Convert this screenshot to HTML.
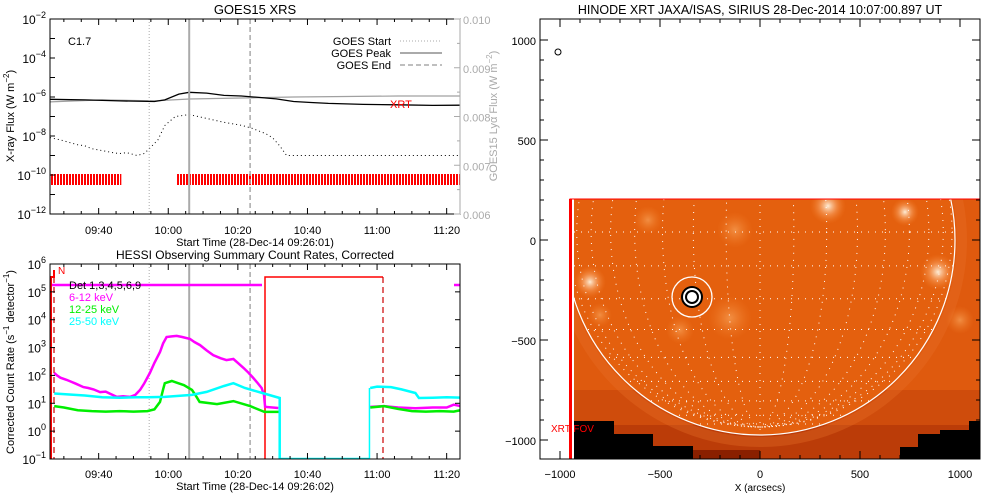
<!DOCTYPE html>
<html><head><meta charset="utf-8">
<style>
html,body{margin:0;padding:0;background:#fff;width:1000px;height:500px;overflow:hidden}
svg{display:block;font-family:"Liberation Sans",sans-serif}
</style></head>
<body>
<svg id="fig" width="1000" height="500" viewBox="0 0 1000 500" xmlns="http://www.w3.org/2000/svg">
<defs>
<pattern id="stripe" width="3" height="20" patternUnits="userSpaceOnUse"><rect x="0" y="0" width="2" height="20" fill="#ff0000"/><rect x="2" y="0" width="1" height="20" fill="#ffffff"/></pattern>
<clipPath id="topclip"><rect x="50" y="19" width="410" height="195"/></clipPath>
<clipPath id="botclip"><rect x="50" y="264" width="410" height="195"/></clipPath>
<clipPath id="fovclip"><rect x="574" y="199" width="406" height="260"/></clipPath>
<clipPath id="discclip"><circle cx="760" cy="240" r="195"/></clipPath>
<radialGradient id="blob"><stop offset="0" stop-color="#fff4e0" stop-opacity="0.95"/><stop offset="0.5" stop-color="#f8a060" stop-opacity="0.6"/><stop offset="1" stop-color="#f07a25" stop-opacity="0"/></radialGradient>
<radialGradient id="blob2"><stop offset="0" stop-color="#f59a50" stop-opacity="0.8"/><stop offset="1" stop-color="#f07a25" stop-opacity="0"/></radialGradient>
</defs>
</svg>
<script>
// ---------- DATA ----------
// Top panel (GOES), time in minutes since 09:26:01
const goesLongT   = [0, 10, 20, 30, 33, 37, 40, 45, 50, 55, 60, 65, 70, 75, 80, 90, 100, 110, 118];
const goesLongLog = [-6.12, -6.15, -6.2, -6.23, -6.15, -5.85, -5.76, -5.8, -5.92, -5.95, -6.02, -6.1, -6.23, -6.28, -6.33, -6.38, -6.4, -6.43, -6.42];
const goesShortT   = [0, 3, 5, 8, 10, 12, 15, 18, 20, 22, 25, 27, 28, 31, 33, 36, 40, 45, 50, 55, 58, 62, 64, 66, 68, 75, 85, 95, 105, 118];
const goesShortLog = [-8.08, -8.2, -8.3, -8.45, -8.5, -8.65, -8.75, -8.85, -8.9, -8.85, -9.0, -8.9, -8.75, -8.2, -7.46, -7.0, -6.9, -7.1, -7.3, -7.45, -7.6, -7.88, -8.1, -8.5, -9.0, -9.0, -9.0, -9.0, -9.0, -9.0];
const lyaT   = [0, 15, 30, 40, 55, 70, 85, 100, 118];
const lyaVal = [0.00830, 0.00834, 0.00832, 0.00836, 0.00838, 0.00840, 0.00841, 0.00842, 0.00842];
const xrtObsStart = [0, 36.5];
const xrtObsEnd   = [20.5, 118];
const goesEventT = [28.5, 40.0, 57.5]; // start, peak, end
const timeTickLabels = ["09:40", "10:00", "10:20", "10:40", "11:00", "11:20"];
const timeTickMin = [14, 34, 54, 74, 94, 114];
// Bottom panel (HESSI), log10 count rates
const lowT   = [1.2, 2, 3, 4.8, 6, 7.5, 9.6, 11, 12.5, 14.4, 16, 17.5, 19.2, 21, 23, 24.5, 25.9, 27, 28.7, 30, 31.6, 32.5, 33.5, 35, 36.4, 38, 40.2, 41.5, 43.1, 45, 46.9, 49, 50.7, 52.7, 54, 55.6, 57, 58.4, 59.5, 60.8, 61.5, 61.8, 65.6];
const lowLog = [2.09, 2.0, 1.92, 1.84, 1.78, 1.7, 1.58, 1.55, 1.5, 1.40, 1.42, 1.33, 1.23, 1.25, 1.23, 1.3, 1.48, 1.7, 2.09, 2.45, 2.84, 3.15, 3.38, 3.4, 3.42, 3.38, 3.31, 3.2, 3.09, 2.9, 2.73, 2.62, 2.55, 2.59, 2.45, 2.27, 2.1, 1.91, 1.75, 1.55, 1.3, 0.87, 0.83];
const lowT2   = [92, 96, 100, 105, 110, 114, 116, 118];
const lowLog2 = [0.87, 0.9, 0.85, 0.82, 0.85, 0.85, 0.95, 0.9];
const midT   = [1.2, 4, 8, 12, 16, 20, 24, 28, 30, 31.6, 32.5, 33, 35, 38.5, 40.8, 42, 43, 48, 52.7, 57.5, 61.6, 66];
const midLog = [0.9, 0.85, 0.75, 0.72, 0.7, 0.72, 0.7, 0.72, 0.78, 1.05, 1.5, 1.72, 1.8, 1.65, 1.48, 1.25, 1.05, 0.97, 1.08, 0.9, 0.69, 0.69];
const midT2   = [92, 96, 100, 104, 108, 112, 116, 118];
const midLog2 = [0.85, 0.9, 0.8, 0.72, 0.7, 0.72, 0.7, 0.75];
const highT   = [1.2, 5, 10, 15, 20, 25, 28, 33, 40.8, 45, 50, 52.7, 56, 61, 66, 66.01, 91.8];
const highLog = [1.35, 1.32, 1.28, 1.22, 1.2, 1.22, 1.22, 1.23, 1.3, 1.41, 1.62, 1.72, 1.55, 1.37, 1.19, -1, -1];
const highT2   = [92, 94, 98, 101, 105, 106, 110, 114, 118];
const highLog2 = [1.55, 1.6, 1.58, 1.5, 1.37, 1.19, 1.2, 1.22, 1.2];
const hessiEventT = [28.5, 40.0, 57.5];

// ---------- HELPERS ----------
const NS = "http://www.w3.org/2000/svg";
const svg = document.getElementById("fig");
function mk(tag, attrs, parent) {
  const el = document.createElementNS(NS, tag);
  for (const k in attrs) el.setAttribute(k, attrs[k]);
  (parent || svg).appendChild(el);
  return el;
}
function txt(s, x, y, attrs, parent) {
  const el = mk("text", Object.assign({x: x, y: y, "font-size": 12, fill: "#000"}, attrs || {}), parent);
  el.textContent = s;
  return el;
}
function supText(parent, base, sup, x, y, anchor, color) {
  const t = mk("text", {x: x, y: y, "font-size": 12, fill: color || "#000", "text-anchor": anchor || "end"}, parent);
  const a = document.createElementNS(NS, "tspan"); a.textContent = base; t.appendChild(a);
  const b = document.createElementNS(NS, "tspan"); b.setAttribute("dy", "-6"); b.setAttribute("font-size", "9"); b.textContent = sup; t.appendChild(b);
  return t;
}
const xT = t => 50 + t * 3.48;
const yTop = l => 19 + (-2 - l) * 19.5;
const yLy = v => 214 - (v - 0.006) / 0.004 * 195;
const yBot = l => 264 + (6 - Math.max(-1, Math.min(6, l))) * 27.857;
const xA = a => 760 + a * 0.2;
const yA = a => 240 - a * 0.2;
function pathFrom(ts, vs, fx, fy) {
  return ts.map((t, i) => (i ? "L" : "M") + fx(t).toFixed(1) + "," + fy(vs[i]).toFixed(1)).join(" ");
}

// ================= TOP PANEL =================
const gTop = mk("g", {});


let e;
e = txt("GOES15 XRS", 255, 14, {"text-anchor": "middle", "font-size": 13}, gTop);



const topPlot = mk("g", {"clip-path": "url(#topclip)"}, gTop);



xrtObsStart.forEach((s, i) => {
  const r = mk("rect", {x: xT(s), y: 174, width: xT(xrtObsEnd[i]) - xT(s), height: 11, fill: "url(#stripe)"}, topPlot);
  
  
});
e = mk("path", {d: pathFrom(lyaT, lyaVal, xT, yLy), fill: "none", stroke: "#a0a0a0", "stroke-width": 1.2}, topPlot);


e = mk("path", {d: pathFrom(goesLongT, goesLongLog, xT, yTop), fill: "none", stroke: "#000", "stroke-width": 1.3}, topPlot);


e = mk("path", {d: pathFrom(goesShortT, goesShortLog, xT, yTop), fill: "none", stroke: "#000", "stroke-width": 1, "stroke-dasharray": "1 3"}, topPlot);


const evStyles = [{"stroke-dasharray": "1 2", "stroke-width": 1}, {"stroke-width": 2}, {"stroke-dasharray": "5 3", "stroke-width": 1.5}];
const evNames = ['goes-start-line', 'goes-peak-line', 'goes-end-line'];
goesEventT.forEach((t, i) => {
  const l = mk("line", Object.assign({x1: xT(t), x2: xT(t), y1: 19, y2: 214, stroke: "#aaaaaa"}, evStyles[i]), topPlot);
  
  
});
e = txt("XRT", 390, 108, {fill: "#ff0000", "font-size": 11}, gTop);


e = txt("C1.7", 68, 45, {"font-size": 11}, gTop);


const legTexts = ["GOES Start", "GOES Peak", "GOES End"];
legTexts.forEach((s, i) => {
  const y = 41 + i * 12;
  const t = txt(s, 391, y + 4, {"text-anchor": "end", "font-size": 11}, gTop);
  
  
  const l = mk("line", Object.assign({x1: 400, x2: 442, y1: y, y2: y, stroke: "#aaaaaa"}, evStyles[i]), gTop);
  
  
});
e = mk("rect", {x: 50, y: 19, width: 410, height: 195, fill: "none", stroke: "#000", "stroke-width": 1}, gTop);


e = mk("line", {x1: 460, x2: 460, y1: 19, y2: 214, stroke: "#aaaaaa", "stroke-width": 1}, gTop);


for (let p = -12; p <= -2; p++) {
  const y = yTop(p);
  const tk = mk("line", {x1: 50, x2: 55, y1: y, y2: y, stroke: "#000"}, gTop);
  
  
  if (p % 2 === 0) {
    const lb = supText(gTop, "10", String(p).replace("-", "\u2212"), 46, y + 5, "end");
    
    
  }
}
for (let k = 0; k <= 8; k++) {
  const v = 0.006 + k * 0.0005;
  const y = yLy(v);
  const tk = mk("line", {x1: 460, x2: k % 2 ? 457 : 454, y1: y, y2: y, stroke: "#aaaaaa"}, gTop);
  
  
  if (k % 2 === 0) {
    const lb = txt(v.toFixed(3), 463, y + 5, {fill: "#aaaaaa", "font-size": 11}, gTop);
    
    
  }
}
function timeTicks(g, y0, y1, labelY) {
  for (let m = 4; m <= 116; m += 5) {
    const x = xT(m - 0.017);
    const major = (m - 14) % 20 === 0;
    const len = major ? 6 : 3;
    const a = mk("line", {x1: x, x2: x, y1: y1, y2: y1 - len, stroke: "#000"}, g);
    
    
    const b = mk("line", {x1: x, x2: x, y1: y0, y2: y0 + len, stroke: "#000"}, g);
    
    
  }
  timeTickLabels.forEach((s, i) => {
    const lb = txt(s, xT(timeTickMin[i]), labelY, {"text-anchor": "middle", "font-size": 11}, g);
    
    
  });
}
timeTicks(gTop, 19, 214, 234);
e = txt("Start Time (28-Dec-14 09:26:01)", 255, 246, {"text-anchor": "middle", "font-size": 11}, gTop);


e = mk("text", {x: 0, y: 0, "font-size": 11, "text-anchor": "middle", transform: "translate(14,116) rotate(-90)"}, gTop);
e.innerHTML = 'X-ray Flux (W m<tspan dy="-5" font-size="8">\u22122</tspan><tspan dy="5">)</tspan>';


e = mk("text", {x: 0, y: 0, "font-size": 11, fill: "#aaaaaa", "text-anchor": "middle", transform: "translate(497,116) rotate(-90)"}, gTop);
e.innerHTML = 'GOES15 Ly\u03b1 Flux (W m<tspan dy="-5" font-size="8">\u22122</tspan><tspan dy="5">)</tspan>';



// ================= BOTTOM PANEL =================
const gBot = mk("g", {});


e = txt("HESSI Observing Summary Count Rates, Corrected", 255, 259, {"text-anchor": "middle", "font-size": 12}, gBot);


const botPlot = mk("g", {"clip-path": "url(#botclip)"}, gBot);


hessiEventT.forEach((t, i) => {
  const l = mk("line", Object.assign({x1: xT(t), x2: xT(t), y1: 264, y2: 459, stroke: "#aaaaaa"}, evStyles[i]), botPlot);
  
  
});
e = mk("line", {x1: 50, x2: 460, y1: 285, y2: 285, stroke: "#ff00ff", "stroke-width": 2.5, "stroke-dasharray": "212 192 10"}, botPlot);


e = mk("path", {d: "M265,459 V277 H383", fill: "none", stroke: "#ff0000", "stroke-width": 1.5}, botPlot);


e = mk("line", {x1: 383, x2: 383, y1: 277, y2: 459, stroke: "#cc0000", "stroke-width": 1.2, "stroke-dasharray": "6 4"}, botPlot);


e = mk("line", {x1: 54, x2: 54, y1: 277, y2: 459, stroke: "#cc0000", "stroke-width": 1.2, "stroke-dasharray": "6 4"}, botPlot);


e = mk("path", {d: "M51,459 V277 H54 V270", fill: "none", stroke: "#ff0000", "stroke-width": 2}, botPlot);


const seriesDefs = [
  [lowT, lowLog, "#ff00ff", 'series-6-12-kev'], [lowT2, lowLog2, "#ff00ff", 'series-6-12-kev-late'],
  [midT, midLog, "#00ee00", 'series-12-25-kev'], [midT2, midLog2, "#00ee00", 'series-12-25-kev-late'],
  [highT, highLog, "#00ffff", 'series-25-50-kev'], [highT2, highLog2, "#00ffff", 'series-25-50-kev-late']
];
seriesDefs.forEach(sd => {
  const p = mk("path", {d: pathFrom(sd[0], sd[1], xT, yBot), fill: "none", stroke: sd[2], "stroke-width": 2.5}, botPlot);
  
  
});
e = mk("line", {x1: xT(91.8), x2: xT(91.8), y1: yBot(-1), y2: yBot(highLog2[0]), stroke: "#00ffff", "stroke-width": 1.5}, botPlot);


e = txt("N", 58, 274, {fill: "#ff0000", "font-size": 10}, gBot);


const legB = [["Det 1,3,4,5,6,9", "#000"], ["6-12 keV", "#ff00ff"], ["12-25 keV", "#00ee00"], ["25-50 keV", "#00ffff"]];
legB.forEach((l, i) => {
  const t = txt(l[0], 69, 289 + i * 12, {fill: l[1], "font-size": 11}, gBot);
  
  
});
e = mk("rect", {x: 50, y: 264, width: 410, height: 195, fill: "none", stroke: "#000", "stroke-width": 1}, gBot);


for (let p = -1; p <= 6; p++) {
  const y = yBot(p);
  const a = mk("line", {x1: 50, x2: 55, y1: y, y2: y, stroke: "#000"}, gBot);
  
  
  const b = mk("line", {x1: 460, x2: 455, y1: y, y2: y, stroke: "#000"}, gBot);
  
  
  const lb = supText(gBot, "10", String(p).replace("-", "\u2212"), 46, y + 5, "end");
  
  
}
timeTicks(gBot, 264, 459, 478);
e = txt("Start Time (28-Dec-14 09:26:02)", 255, 490, {"text-anchor": "middle", "font-size": 11}, gBot);


e = mk("text", {x: 0, y: 0, "font-size": 11, "text-anchor": "middle", transform: "translate(14,362) rotate(-90)"}, gBot);
e.innerHTML = 'Corrected Count Rate (s<tspan dy="-5" font-size="8">\u22121</tspan><tspan dy="5"> detector</tspan><tspan dy="-5" font-size="8">\u22121</tspan><tspan dy="5">)</tspan>';



// ================= RIGHT PANEL (XRT image) =================
const gR = mk("g", {});


e = txt("HINODE XRT JAXA/ISAS, SIRIUS 28-Dec-2014 10:07:00.897 UT", 760, 14, {"text-anchor": "middle", "font-size": 12.5}, gR);


const img = mk("g", {"clip-path": "url(#fovclip)"}, gR);


mk("rect", {x: 574, y: 199, width: 406, height: 260, fill: "#df5a0e"}, img);
mk("rect", {x: 574, y: 390, width: 406, height: 70, fill: "#cf4c0c"}, img);
mk("rect", {x: 574, y: 425, width: 406, height: 35, fill: "#bb3c08"}, img);
mk("circle", {cx: 760, cy: 240, r: 202, fill: "none", stroke: "#e87028", "stroke-width": 10, opacity: 0.35}, img);
mk("circle", {cx: 760, cy: 240, r: 195, fill: "#e4600e"}, img);
const blobs = [[828,206,18,"blob"],[905,212,14,"blob"],[938,272,18,"blob"],[590,282,16,"blob"],[600,315,12,"blob2"],[730,318,22,"blob2"],[648,220,14,"blob2"],[735,230,18,"blob2"],[680,330,14,"blob2"],[960,320,14,"blob2"]];
blobs.forEach(b => { mk("circle", {cx: b[0], cy: b[1], r: b[2], fill: "url(#" + b[3] + ")"}, img); });
mk("path", {d: "M574,459 V421 H614 V434 H653 V446 H693 V459 Z", fill: "#000"}, img);
mk("path", {d: "M980,459 V421 H969 V430 H940 V434 H918 V447 H900 V459 Z", fill: "#000"}, img);
mk("path", {d: "M693,459 V450 H760 V459 Z", fill: "#8a2000"}, img);
const grat = mk("g", {"clip-path": "url(#discclip)", stroke: "#fff", "stroke-width": 1, "stroke-dasharray": "1 6", fill: "none"}, img);
for (let lat = -80; lat <= 80; lat += 10) {
  const y = 232 - 195 * Math.sin(lat * Math.PI / 180);
  mk("line", {x1: 560, x2: 960, y1: y, y2: y}, grat);
}
for (let lon = 10; lon < 90; lon += 10) {
  const rx = 195 * Math.sin(lon * Math.PI / 180);
  mk("ellipse", {cx: 760, cy: 232, rx: rx, ry: 195}, grat);
}
mk("line", {x1: 760, x2: 760, y1: 30, y2: 440}, grat);
mk("circle", {cx: 760, cy: 240, r: 195, fill: "none", stroke: "#fff", "stroke-width": 1.2}, img);
const cont = mk("g", {}, img);


mk("circle", {cx: 692, cy: 297, r: 20, fill: "none", stroke: "#fff", "stroke-width": 1.3}, cont);
[11, 9, 7, 5].forEach((r, i) => mk("circle", {cx: 692, cy: 297, r: r, fill: i % 2 ? "#fff" : "#000"}, cont));
mk("circle", {cx: 692, cy: 297, r: 3, fill: "#fff"}, cont);
e = mk("path", {d: "M570,459 V199 H980", fill: "none", stroke: "#ff0000", "stroke-width": 1}, gR);


e = mk("line", {x1: 570.5, x2: 570.5, y1: 199, y2: 459, stroke: "#ff0000", "stroke-width": 3}, gR);


e = txt("XRT FOV", 551, 432, {fill: "#ff0000", "font-size": 10}, gR);


e = mk("circle", {cx: 558, cy: 52, r: 3, fill: "none", stroke: "#000", "stroke-width": 1}, gR);


e = mk("rect", {x: 540, y: 19, width: 440, height: 440, fill: "none", stroke: "#000", "stroke-width": 1}, gR);


for (let a = -1000; a <= 1000; a += 100) {
  const major = a % 500 === 0;
  const len = major ? 8 : 4;
  const x = xA(a), y = yA(a);
  const t1 = mk("line", {x1: x, x2: x, y1: 459, y2: 459 - len, stroke: "#000"}, gR);
  
  
  const t2 = mk("line", {x1: x, x2: x, y1: 19, y2: 19 + len, stroke: "#000"}, gR);
  
  
  const t3 = mk("line", {x1: 540, x2: 540 + len, y1: y, y2: y, stroke: "#000"}, gR);
  
  
  const t4 = mk("line", {x1: 980, x2: 980 - len, y1: y, y2: y, stroke: "#000"}, gR);
  
  
  if (major) {
    const s = String(a).replace("-", "\u2212");
    const lx = txt(s, x, 478, {"text-anchor": "middle", "font-size": 11}, gR);
    
    
    const ly = txt(s, 536, y + 5, {"text-anchor": "end", "font-size": 11}, gR);
    
    
  }
}
e = txt("X (arcsecs)", 760, 491, {"text-anchor": "middle", "font-size": 10}, gR);


</script>
</body></html>
